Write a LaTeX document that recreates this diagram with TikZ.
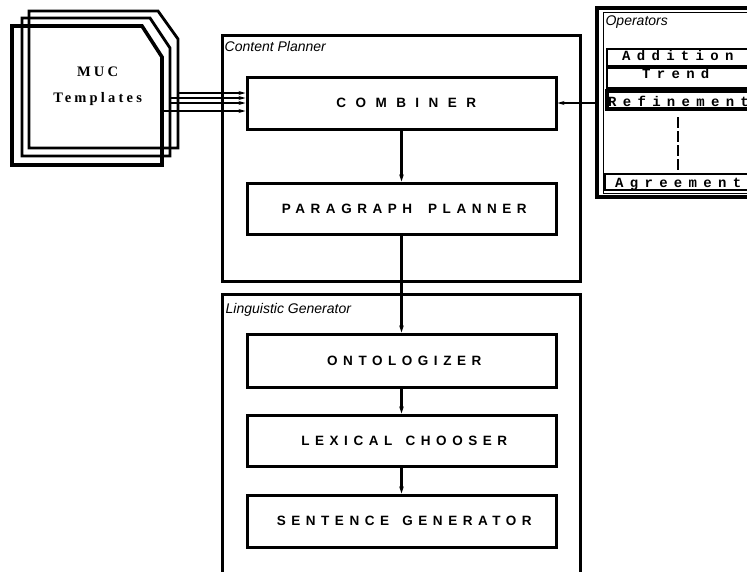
\documentclass[tikz,border=0pt]{standalone}
\usepackage{fontspec}
\setmainfont{Liberation Sans}
\newfontfamily\boxfont{Liberation Sans}[LetterSpace=41]
\newfontfamily\combfont{Liberation Sans}[LetterSpace=70]
\newfontfamily\mucfont{Liberation Serif}[LetterSpace=22]
\newfontfamily\opfont{Liberation Mono}[LetterSpace=45]
\usetikzlibrary{arrows.meta,calc}
\tikzset{
  stage/.style={draw, line width=3pt, minimum width=309pt, minimum height=52pt, inner sep=0pt,
    font=\boxfont\bfseries\fontsize{13.5}{15}\selectfont},
  module/.style={draw, line width=3pt, inner sep=0pt},
  flow/.style={-{Stealth[length=7pt,width=4.5pt]}, line width=2.2pt},
  feed/.style={-{Stealth[length=7pt,width=4pt]}, line width=1.6pt},
  frametitle/.style={anchor=base west, inner sep=0pt, font=\itshape\fontsize{14}{16}\selectfont},
  opbox/.style={draw, line width=2.4pt, inner sep=0pt},
  optext/.style={anchor=base west, inner sep=0pt, font=\opfont\bfseries\fontsize{14}{15}\selectfont},
  tmpl/.style={line width=2.8pt, line join=miter},
}
\begin{document}
\begin{tikzpicture}[x=1pt,y=-1pt]
\useasboundingbox (0,0) rectangle (747,571);
\fill[white] (0,0) rectangle (747,571);
\clip (0,0) rectangle (747,571);

% MUC templates (stack of three)
\draw[tmpl] (29,11) -- (158,11) -- (178,39) -- (178,148) -- (29,148) -- cycle;
\draw[tmpl] (22,18) -- (150,18) -- (170,48) -- (170,156) -- (22,156) -- cycle;
\draw[tmpl, line width=3.6pt] (12,26) -- (142,26) -- (162,57) -- (162,165) -- (12,165) -- cycle;
\node[align=center, inner sep=0pt, font=\mucfont\bfseries\fontsize{14.5}{26}\selectfont] (muc) at (96,86) {MUC\kern-0.22em\\Templates\kern-0.22em};
\coordinate (t1) at (178,93);
\coordinate (t2) at (170,98);
\coordinate (t3) at (170,103);
\coordinate (t4) at (162,111);

% Content planner
\node[module, minimum width=358pt, minimum height=246pt] (cp) at (401,158) {};
\node[frametitle] (cpt) at ($(cp.north west)+(4,18)$) {Content Planner};
\node[stage, font=\combfont\bfseries\fontsize{13.5}{15}\selectfont] (comb) at (401.5,103) {COMBINER\kern-0.7em};
\node[stage, minimum height=51pt] (para) at (401.5,208.5) {PARAGRAPH\hspace{0.5em} PLANNER\kern-0.41em};

% Linguistic generator
\node[module, minimum width=358pt, minimum height=306pt] (lg) at (401,447) {};
\node[frametitle] (lgt) at ($(lg.north west)+(5,21)$) {Linguistic Generator};
\node[stage, minimum height=53pt] (onto) at (401.5,360.5) {ONTOLOGIZER\kern-0.41em};
\node[stage, minimum height=51pt] (lex) at (401.5,440.5) {LEXICAL\hspace{0.3em} CHOOSER\kern-0.41em};
\node[stage] (sent) at (401.5,521) {SENTENCE\hspace{0.3em} GENERATOR\kern-0.41em};

% Operators
\node[draw, line width=3.2pt, minimum width=163pt, minimum height=189pt, inner sep=0pt] (ops) at (678.5,102.5) {};
\node[draw, line width=0.8pt, minimum width=151pt, minimum height=181pt, inner sep=0pt] (opsin) at (678.5,102.5) {};
\node[frametitle] (opst) at ($(ops.north west)+(10,19)$) {Operators};
\node[opbox, minimum width=163pt, minimum height=17pt] (add) at (688.5,57.5) {};
\node[opbox, minimum width=163pt, minimum height=20pt] (trend) at (688.5,78) {};
\node[opbox, line width=3.2pt, minimum width=163pt, minimum height=18pt] (refine) at (688.5,100) {};
\node[opbox, minimum width=165pt, minimum height=16pt] (agree) at (687.5,182) {};
\node[optext] (addt) at (622,60) {Addition};
\node[optext] (trendt) at (642,78.5) {Trend};
\node[optext] (refinet) at (608,106) {Refinement};
\node[optext] (agreet) at (615,187) {Agreement};
\coordinate (d1) at (678,117);
\coordinate (d2) at (678,170);
\draw[line width=1.3pt, dash pattern=on 11pt off 3pt] (d1) -- (d2);

% connectors
\draw[feed] (t1) -- (comb.west |- t1);
\draw[feed] (t2) -- (comb.west |- t2);
\draw[feed] (t3) -- (comb.west |- t3);
\draw[feed] (t4) -- (comb.west |- t4);
\draw[feed] (ops.west |- comb.east) -- (comb.east);
\draw[flow] (comb.south) -- (para.north);
\draw[flow] (para.south) -- (onto.north);
\draw[flow] (onto.south) -- (lex.north);
\draw[flow] (lex.south) -- (sent.north);
\end{tikzpicture}
\end{document}
